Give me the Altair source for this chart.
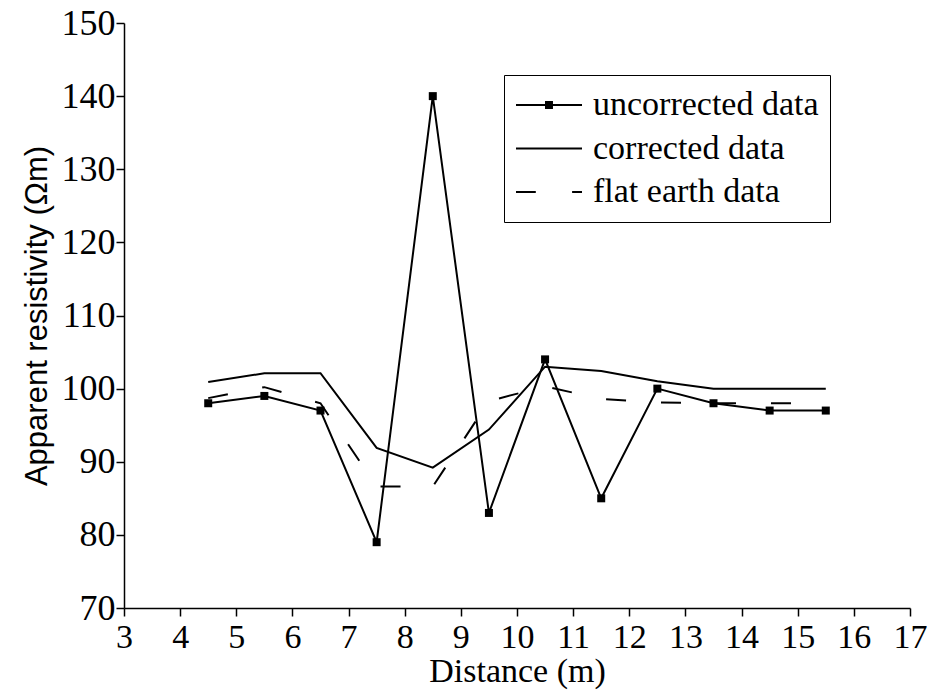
import altair as alt
import pandas as pd

distance = [4.5, 5.5, 6.5, 7.5, 8.5, 9.5, 10.5, 11.5, 12.5, 13.5, 14.5, 15.5]
uncorrected = [98, 99, 97, 79, 140, 83, 104, 85, 100, 98, 97, 97]
corrected = [100.9, 102.1, 102.1, 91.9, 89.2, 94.4, 103, 102.4, 101, 100, 100, 100]
flat_earth = [98.7, 100.2, 98.0, 86.6, 86.6, 98.3, 100.3, 98.6, 98.1, 98, 98, 98]

series = ["uncorrected data", "corrected data", "flat earth data"]
x_ticks = list(range(3, 18))
y_ticks = list(range(70, 151, 10))

SERIF = "'Liberation Serif', 'DejaVu Serif', 'Noto Serif', 'Times New Roman', serif"
SANS = "'Liberation Sans', Arial, sans-serif"

rows = []
for name, vals in zip(series, [uncorrected, corrected, flat_earth]):
    for d, v in zip(distance, vals):
        rows.append({"distance": d, "value": v, "series": name})
df = pd.DataFrame(rows)

xenc = alt.X("distance:Q", scale=alt.Scale(domain=[3, 17], nice=False),
             axis=alt.Axis(values=x_ticks, title="Distance (m)", grid=False,
                           labelFont=SERIF, labelFontSize=34,
                           labelPadding=4, labelFlush=False,
                           titleFont=SERIF, titleFontSize=34,
                           titleFontWeight="normal", titlePadding=0))
yenc = alt.Y("value:Q", scale=alt.Scale(domain=[70, 150], nice=False),
             axis=alt.Axis(values=y_ticks, title="Apparent resistivity (Ωm)", grid=False,
                           labelFont=SERIF, labelFontSize=36,
                           labelPadding=1, labelFlush=False,
                           titleFont=SANS, titleFontSize=31,
                           titleFontWeight="normal", titlePadding=8))

solid_lines = alt.Chart(df).transform_filter(
    alt.datum.series != "flat earth data"
).mark_line(color="black", strokeWidth=2).encode(x=xenc, y=yenc, detail="series:N")

dashed_line = alt.Chart(df).transform_filter(
    alt.datum.series == "flat earth data"
).mark_line(color="black", strokeWidth=2, strokeDash=[20, 35]).encode(x=xenc, y=yenc)

points = alt.Chart(df).transform_filter(
    alt.datum.series == "uncorrected data"
).mark_square(color="black", size=64, opacity=1).encode(x=xenc, y=yenc)

shape_paths = [
    "M-1,0H1M-0.09,-0.09H0.09V0.09H-0.09ZM-0.03,-0.03H0.03V0.03H-0.03Z",
    "M-1,0H1",
    "M-1,0H-0.4M0.7,0H1",
]

legend_layer = alt.Chart(df).mark_point(
    color="black", filled=False, opacity=0, size=1).encode(
    x=xenc, y=yenc,
    shape=alt.Shape("series:N", scale=alt.Scale(domain=series, range=shape_paths),
                    legend=alt.Legend(title=None, orient="none", legendX=380, legendY=52,
                                      symbolSize=4356, symbolStrokeWidth=2,
                                      symbolOpacity=1,
                                      symbolStrokeColor="black",
                                      labelFont=SERIF, labelFontSize=34,
                                      labelColor="black", labelOffset=10,
                                      clipHeight=38, rowPadding=5.5,
                                      padding=11,
                                      strokeColor="black", fillColor="white",
                                      labelLimit=400)),
)

chart = alt.layer(solid_lines, dashed_line, points, legend_layer).properties(
    width=786, height=585,
    autosize=alt.AutoSizeParams(type="none"),
    padding={"left": 124, "top": 23, "right": 19, "bottom": 88},
).configure_view(stroke=None).configure_axis(
    domainColor="black", domainWidth=1.5, tickColor="black", tickWidth=1.5,
    tickSize=8, labelColor="black", titleColor="black",
)

chart.save("out.html", embed_options={"renderer": "svg", "actions": False})
